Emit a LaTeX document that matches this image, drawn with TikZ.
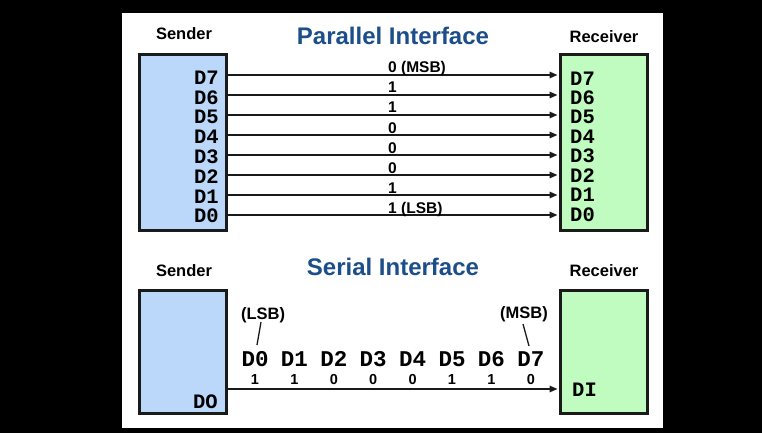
\documentclass[tikz,border=0pt]{standalone}
\usepackage{fontspec}
\setmainfont{Liberation Sans}
\setmonofont{Liberation Mono}
\usetikzlibrary{arrows.meta}
\definecolor{sfill}{HTML}{BBD8FA}
\definecolor{rfill}{HTML}{C0FCC0}
\definecolor{ttl}{HTML}{1C4E8A}
\definecolor{bord}{HTML}{1A1A1A}
\begin{document}
\begin{tikzpicture}[x=1pt,y=-1pt,
  sbox/.style={draw=bord, line width=3pt, fill=sfill, inner sep=0pt, minimum width=87pt},
  rbox/.style={draw=bord, line width=3pt, fill=rfill, inner sep=0pt, minimum width=87pt},
  ttlstyle/.style={font=\fontsize{24}{24}\selectfont\bfseries, text=ttl, inner sep=0pt},
  role/.style={font=\fontsize{16.5}{16.5}\selectfont\bfseries, inner sep=0pt},
  pinlab/.style={font=\fontsize{20.5}{20.5}\selectfont\ttfamily\bfseries, inner sep=0pt},
  spinlab/.style={font=\fontsize{22.5}{22.5}\selectfont\ttfamily\bfseries, inner sep=0pt},
  bitlab/.style={font=\fontsize{15.5}{15.5}\selectfont\bfseries, inner sep=0pt},
  sbitlab/.style={font=\fontsize{14.5}{14.5}\selectfont\bfseries, inner sep=0pt},
  endlab/.style={font=\fontsize{16.5}{16.5}\selectfont\bfseries, inner sep=0pt},
  wire/.style={draw=bord, line width=1.5pt, -{Triangle[length=8pt,width=6.5pt]}},
  slash/.style={draw=bord, line width=1.3pt}]
\useasboundingbox (0,0) rectangle (762,433);
\fill[black] (0,0) rectangle (762,433);
\fill[white] (122,13) rectangle (663,428);

% ---------- Parallel ----------
\node[ttlstyle] (ptitle) at (393,36) {Parallel Interface};
\node[role] (psl) at (184,34) {Sender};
\node[role] (prl) at (604,37) {Receiver};
\node[sbox, minimum height=176pt] (ps) at (183,142.5) {};
\node[rbox, minimum height=176pt] (pr) at (604,142.5) {};

\foreach \b/\k in {0 (MSB)/0, 1/1, 1/2, 0/3, 0/4, 0/5, 1/6, 1 (LSB)/7}{
  \pgfmathsetmacro{\wy}{75+20*\k}
  \pgfmathtruncatemacro{\idx}{7-\k}
  \coordinate (w\idx) at (0,\wy);
  \draw[wire] (w\idx -| ps.east) -- ([xshift=-1.5pt]w\idx -| pr.west);
  \node[bitlab, anchor=base west] (bit\idx) at (388,\wy-2) {\b};
  \node[pinlab, anchor=east] (sp\idx) at (219,{77.5+19.8*\k}) {D\idx};
  \node[pinlab, anchor=west] (rp\idx) at (570,{78.5+19.4*\k}) {D\idx};
}

% ---------- Serial ----------
\node[ttlstyle] (stitle) at (393,267) {Serial Interface};
\node[role] (ssl) at (184,271) {Sender};
\node[role] (srl) at (604,271) {Receiver};
\node[sbox, minimum height=123pt] (ss) at (183,352) {};
\node[rbox, minimum height=123pt] (sr) at (604,352) {};

\node[pinlab, anchor=east] (do) at (218,402) {DO};
\node[pinlab, anchor=west] (di) at (572,390) {DI};
\coordinate (sw) at (0,389);
\draw[wire] (sw -| ss.east) -- ([xshift=-1.5pt]sw -| sr.west);

\foreach \b/\i in {1/0, 1/1, 0/2, 0/3, 0/4, 1/5, 1/6, 0/7}{
  \pgfmathsetmacro{\dx}{255+39.4*\i}
  \node[spinlab] (sd\i) at (\dx,359) {D\i};
  \node[sbitlab, anchor=base] (sb\i) at (\dx,384.5) {\b};
}

\node[endlab] (lsb) at (263,315) {(LSB)};
\node[endlab] (msb) at (524,314) {(MSB)};
\coordinate (lsbtop) at (261,322);
\coordinate (lsbbot) at (257,345);
\coordinate (msbtop) at (523,324);
\coordinate (msbbot) at (529,346);
\draw[slash] (lsbtop) -- (lsbbot);
\draw[slash] (msbtop) -- (msbbot);
\end{tikzpicture}
\end{document}
